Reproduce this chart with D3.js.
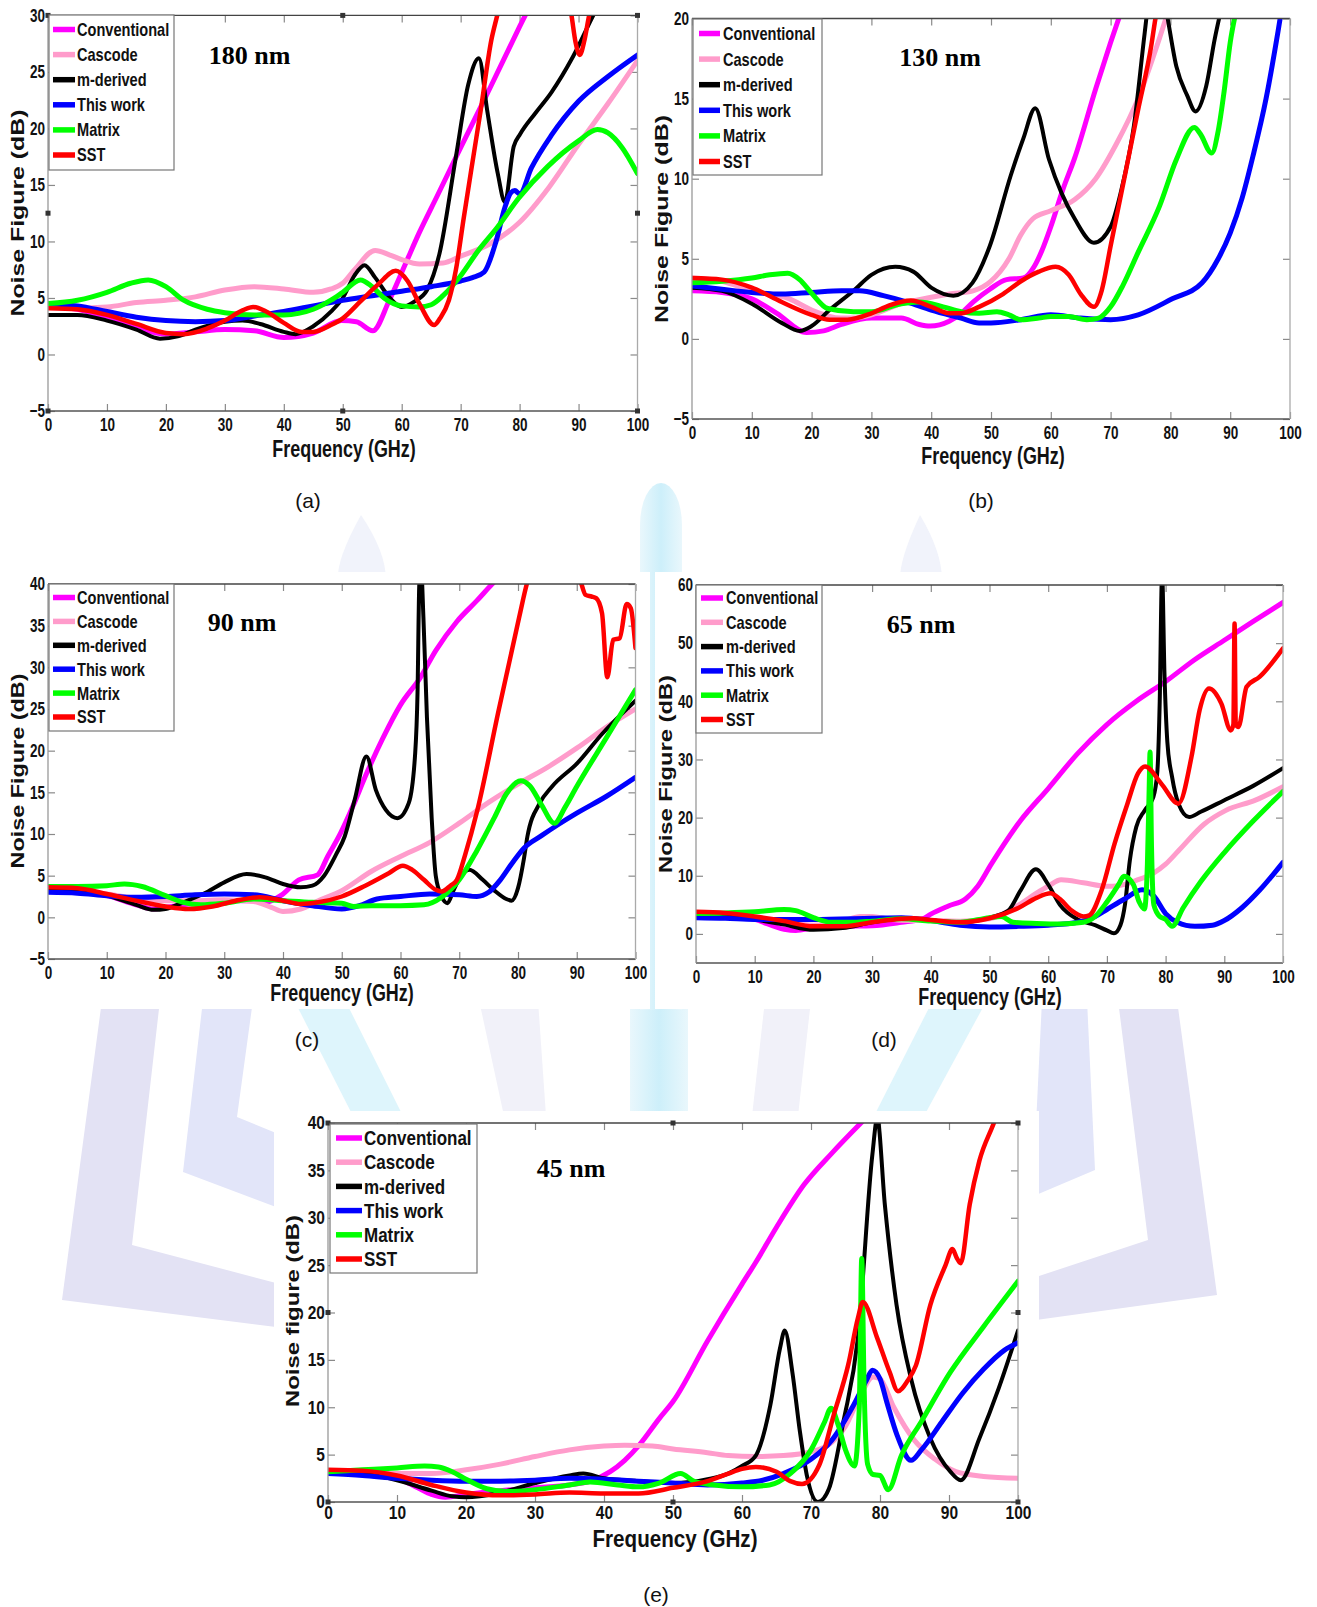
<!DOCTYPE html>
<html>
<head>
<meta charset="utf-8">
<script src="https://cdn.jsdelivr.net/npm/d3@7"></script>
<style>
  html, body { margin: 0; padding: 0; background: #ffffff; }
  svg { display: block; }
</style>
</head>
<body>
<svg id="fig" width="1317" height="1607"></svg>
<script>
// ---------------------------------------------------------------
// Noise figure vs. frequency for five process nodes.
// Each series is a list of [frequency (GHz), noise figure (dB)].
// ---------------------------------------------------------------

const seriesNames = ["Conventional", "Cascode", "m-derived", "This work", "Matrix", "SST"];
const xTickValues = [0, 10, 20, 30, 40, 50, 60, 70, 80, 90, 100];
const yTicks180 = [-5, 0, 5, 10, 15, 20, 25, 30];
const yTicks130 = [-5, 0, 5, 10, 15, 20];
const yTicks90 = [-5, 0, 5, 10, 15, 20, 25, 30, 35, 40];
const yTicks65 = [0, 10, 20, 30, 40, 50, 60];
const yTicks45 = [0, 5, 10, 15, 20, 25, 30, 35, 40];

// ---- 180 nm ----
const a_conv = [[0,4.3],[5,4.0],[10,3.3],[15,2.4],[20,1.8],[25,2.0],[30,2.2],[35,2.1],[40,1.5],[45,1.9],[49.8,3.0],[52.3,2.9],[55.1,2.1],[57.9,4.8],[60.7,8.1],[63,10.8],[66,14],[70,18.3],[75,23.6],[80,29],[82,31.1]];
const a_casc = [[0,4.2],[5,4.1],[10,4.2],[15,4.6],[20,4.8],[25,5.1],[30,5.7],[35,6.0],[40,5.8],[45,5.5],[48,5.8],[50,6.3],[52,7.5],[55.5,9.2],[58,8.8],[60,8.4],[63,8.0],[67,8.1],[70,8.7],[75,9.8],[80,11.7],[85,14.8],[90,18.6],[95,22.2],[100,26]];
const a_mder = [[0,3.5],[5,3.5],[10,3.0],[15,2.2],[19,1.4],[22,1.6],[25,2.2],[30,2.9],[33,3.0],[36,2.7],[40,2.0],[42,1.8],[45,2.5],[48,3.8],[50,5.0],[52,7.0],[53.7,7.9],[55.5,6.8],[58,5.0],[60,4.2],[62.2,4.7],[64.3,5.7],[66.4,8.9],[69.2,17.5],[71.3,23.9],[73.1,26.2],[74.5,21.6],[76.3,16],[77.5,13.5],[79,18.4],[80.1,19.5],[82.6,21.3],[85.4,23.2],[89,26.3],[92.5,30],[94,31.5]];
const a_this = [[0,4.5],[5,4.3],[10,3.8],[15,3.3],[20,3.0],[25,2.9],[30,3.0],[35,3.4],[40,3.8],[45,4.3],[50,4.8],[55,5.2],[60,5.6],[65,6.0],[70,6.5],[72,6.8],[74,7.3],[76,10],[77.5,13],[78.5,14.3],[79.2,14.5],[80,14.2],[82,16.5],[85.4,19.4],[90,22.4],[95,24.6],[100,26.5]];
const a_matr = [[0,4.5],[5,4.8],[10,5.5],[14,6.3],[17,6.6],[20,6.0],[23,4.8],[27,4.0],[30,3.7],[35,3.5],[40,3.5],[45,4.0],[48,4.8],[50,5.5],[53,6.6],[55,6.0],[57,5.0],[60,4.3],[63,4.2],[65,4.4],[67,5.2],[69.9,6.9],[73,9.2],[76.3,11.3],[79.8,13.8],[84.7,16.6],[90,18.9],[93.2,19.9],[95,19.6],[97.4,18.3],[100,16]];
const a_sst  = [[0,4.1],[5,4.0],[10,3.5],[15,2.7],[20,1.9],[23,1.8],[27,2.3],[30,3.0],[33,3.9],[34.8,4.2],[37,3.8],[40,2.8],[43,2.0],[45,2.0],[48,2.6],[50,3.2],[53,4.7],[56,6.2],[59,7.4],[61,6.5],[63,4.5],[65.5,2.6],[66.5,3.2],[68,4.8],[69.2,7.5],[70.5,12],[72,17],[73.4,21.6],[75.2,27.8],[76.2,30],[77.5,33],[82,38],[86,35],[88.8,30],[89.5,27.6],[90.2,26.5],[91,27.8],[91.8,30],[93,32]];

// ---- 130 nm ----
const b_conv = [[0,3.0],[5,2.9],[10,2.5],[14.2,1.6],[19.2,0.4],[22,0.5],[25,0.9],[30,1.3],[35,1.3],[38,0.9],[39.8,0.8],[43,1.1],[45,1.6],[47,2.3],[49.8,3.1],[52.6,3.7],[55.4,3.8],[57.2,4.5],[58.5,5.5],[60,7],[62,9.3],[64,11.3],[67.5,15.6],[70,18.5],[72,20.7]];
const b_casc = [[0,3.8],[5,3.6],[10,3.0],[16.3,2.5],[20,1.8],[24.9,1.3],[27,1.3],[30,1.5],[35,2.2],[40,2.6],[43,2.8],[47,3.0],[50,3.6],[53,5],[55,6.5],[57,7.5],[60,8.0],[64,8.7],[67.5,10],[71,12.2],[74.6,15],[78.2,18.8],[79.5,20.3]];
const b_mder = [[0,3.2],[5,3.0],[10,2.2],[15,1.0],[18,0.5],[20,0.8],[23,1.8],[27,3.0],[30,4.0],[34,4.5],[37,4.2],[40,3.2],[43.7,2.7],[46.9,3.5],[49.8,5.8],[53.3,10.2],[55.4,12.5],[57.4,14.4],[59.7,11.2],[61.8,9.1],[64,7.5],[67.2,6.0],[70,7],[71.8,9.3],[73.9,13.3],[75.7,19.1],[76.5,21.5],[78,23],[79.4,20.3],[81,17],[82.8,15.2],[84.2,14.2],[86,15.8],[87.4,18.7],[88.5,20.6]];
const b_this = [[0,3.3],[5,3.1],[10,2.9],[15,2.8],[20,2.9],[25,3.0],[28,3.0],[32,2.7],[36,2.3],[40,1.8],[45,1.3],[48,1.0],[50,1.0],[55,1.2],[60,1.5],[65,1.3],[70,1.2],[74.6,1.5],[80.3,2.5],[85.3,3.5],[88,5.0],[90,6.6],[92,8.8],[93.8,11.4],[96,15],[98,19.2],[99,21.5]];
const b_matr = [[0,3.5],[5,3.6],[10,3.8],[13,4.0],[16,4.1],[18,3.7],[19.9,2.9],[22.7,1.9],[27,1.7],[30,1.7],[35,2.2],[38,2.3],[42,2.0],[45,1.7],[48,1.6],[51,1.7],[53,1.5],[55,1.2],[58,1.3],[60,1.4],[63,1.4],[66,1.2],[68,1.3],[70,2.0],[72,3.3],[74.6,5.4],[78.2,8.3],[81,11.2],[84,13.2],[85,12.8],[86.9,11.6],[88,13],[89,15.5],[90,18.5],[91,20.5]];
const b_sst  = [[0,3.8],[5,3.7],[10,3.2],[15,2.3],[20,1.5],[23,1.2],[26,1.2],[30,1.6],[33,2.1],[36.6,2.4],[40,2.0],[43,1.6],[45,1.6],[48,2.0],[52,2.8],[55,3.6],[58,4.2],[60.8,4.5],[63,4.0],[65,2.8],[67.2,2.0],[68.5,3.0],[70,5.8],[72.5,10.4],[74.6,14.3],[76.8,18.3],[77.5,20],[78,21]];

// ---- 90 nm ----
const c_conv = [[0,3.2],[5,3.0],[10,2.6],[15,1.5],[18,1.0],[20,1.2],[25,1.7],[30,2.0],[35,2.0],[37,1.8],[39.8,2.7],[42.7,4.5],[45.9,5.1],[47.6,7.3],[49.8,10.1],[52,13.5],[54,16.9],[57,21.5],[60,25.5],[63.4,28.8],[66,32],[69.6,35.5],[73,38],[75.6,40],[77,41]];
const c_casc = [[0,3.5],[5,3.3],[10,2.8],[15,2.3],[20,2.0],[25,2.0],[30,2.1],[35,1.9],[38,1.2],[40,0.7],[43,1.0],[46,2.0],[50,3.2],[55,5.5],[60,7.3],[65,9.0],[70,11.3],[75,13.8],[80,16],[85,18],[90,20.3],[95,22.8],[100,25]];
const c_mder = [[0,3.5],[5,3.3],[10,2.6],[15,1.5],[18,0.9],[20,1.0],[23,1.8],[27,3.0],[30,4.2],[33.8,5.2],[37,4.8],[40,4.0],[43,3.6],[45,3.8],[47,5],[49,7.5],[50.5,9.7],[52.2,14.1],[54.2,19.3],[55.8,15.3],[57.5,12.9],[59.5,11.9],[61.4,13.7],[62.5,19.7],[62.9,27],[63.2,40],[63.5,42],[63.9,36],[64.5,24],[65.3,12],[66,5],[67,2.5],[68,1.7],[69,3.2],[70,4.6],[71.7,5.7],[74,4.5],[76,3.2],[78,2.2],[78.9,2.0],[80,3.5],[81,7],[81.6,9.7],[83.7,13.7],[85.8,15.7],[90.1,18.5],[94.3,22],[100,26]];
const c_this = [[0,3.0],[5,2.9],[10,2.6],[15,2.4],[20,2.5],[25,2.7],[30,2.8],[35,2.7],[40,2.0],[45,1.4],[50,1.0],[53,1.4],[56,2.2],[60,2.5],[65,2.8],[70,2.7],[73,2.5],[75,3.0],[77,4.5],[79,6.5],[81,8.3],[84,9.8],[87,11.2],[90,12.5],[95,14.5],[100,16.8]];
const c_matr = [[0,3.7],[5,3.7],[10,3.8],[13,4.0],[16,3.7],[20,2.6],[23,1.8],[26,1.5],[30,1.7],[35,2.2],[40,2.0],[45,1.8],[50,1.7],[52,1.3],[55,1.4],[60,1.4],[64,1.5],[67,2.4],[70,4.5],[73,8],[76,12],[78,14.8],[80.5,16.4],[82,15.8],[84,13.5],[86.2,11.3],[88,13.2],[90,15.7],[95,21.5],[100,27.3]];
const c_sst  = [[0,3.6],[5,3.5],[10,2.8],[15,2.0],[20,1.3],[24,1.0],[28,1.3],[32,2.0],[36,2.4],[40,2.0],[43,1.6],[46,1.8],[50,2.5],[54,3.8],[58,5.3],[60.4,6.2],[62,5.7],[64,4.5],[66,3.3],[67,3.1],[68.5,3.8],[69.6,4.5],[71,7.5],[73.1,12.9],[76.6,24.5],[80.2,36],[81.5,40],[83,43],[87,45],[90,42],[90.8,40],[91.5,38.7],[92.5,38.5],[93.3,38.3],[94.3,36.5],[95.2,28.8],[96.2,33.3],[97.3,33.5],[98.5,37.6],[99.2,37.1],[100,32.3]];

// ---- 65 nm ----
const d_conv = [[0,3.5],[5,3.3],[10,2.5],[15,0.8],[17,0.6],[20,1.0],[25,1.3],[30,1.4],[35,2.0],[38.6,2.6],[40,3.4],[43,4.8],[45.9,6.0],[48,8.2],[50.3,12],[55.3,19.5],[60,25],[65,31],[70,36],[75,40],[80,43.4],[85,47.2],[90,50.5],[95,53.8],[100,57]];
const d_casc = [[0,3.3],[10,2.8],[15,2.0],[20,1.5],[25,2.2],[28,3.0],[30,3.0],[33,2.5],[36,2.3],[40,2.3],[45,2.2],[50,2.6],[55,5],[58,7],[60,8.2],[62.2,9.3],[66,8.8],[70,8.2],[72,8.3],[75,9.2],[78,10.5],[80,12],[82.2,14.3],[86.6,18.9],[90.2,21.2],[95.3,23],[100,25.3]];
const d_mder = [[0,3.6],[5,3.4],[10,2.5],[15,1.6],[20,0.7],[25,1.0],[30,2.0],[35,2.6],[40,2.3],[45,2.0],[50,2.8],[53.2,4],[55.3,7.5],[57.9,11.1],[60,8.5],[62,5],[65,2.5],[68,1.5],[70,0.6],[71.2,0.1],[72.3,1.5],[73.1,5.2],[73.9,12.6],[75,18.4],[76.4,21.2],[77.9,23.5],[78.6,28],[79.0,40],[79.4,62],[79.8,45],[80.3,33],[81.1,27],[82.2,22.4],[84,20.1],[86,21],[90,23],[95,25.5],[100,28.5]];
const d_this = [[0,2.8],[5,2.7],[10,2.5],[20,2.5],[30,2.7],[35,2.8],[40,2.3],[45,1.5],[50,1.2],[55,1.3],[60,1.5],[65,2.0],[68,3.0],[70,4.2],[73,6.0],[76,7.6],[78,6.5],[80,3.5],[82,2.0],[85,1.3],[88,1.5],[90,2.3],[93,4.5],[96,7.5],[100,12.3]];
const d_matr = [[0,3.5],[5,3.6],[10,3.8],[15,4.2],[17,4.0],[20,2.8],[23,2.0],[27,2.0],[30,2.2],[35,2.6],[40,2.2],[45,2.0],[50,2.8],[52,3.0],[54,2.0],[58,1.8],[62,1.7],[66,2.0],[68,3.0],[70,5.5],[72,8.5],[72.9,9.9],[74.5,8.5],[75.5,5.5],[76.4,4.3],[76.9,12],[77.2,25],[77.35,31.3],[77.6,15],[78,5],[79,3],[80,2.5],[81.1,1.3],[83,4.5],[86,9],[90,14],[95,19.5],[100,24.5]];
const d_sst  = [[0,3.8],[5,3.6],[10,3.0],[15,2.2],[20,1.3],[25,1.3],[30,2.0],[35,2.6],[37,2.7],[40,2.4],[45,2.0],[50,2.7],[55,4.5],[58,6.2],[60.4,7.0],[62,6.0],[64,4.0],[66,3.0],[67,3.2],[69.1,7.5],[71.3,15.5],[73.5,22.4],[75.3,27.6],[76.5,28.8],[79.3,25.8],[82.2,22.4],[84.4,30.4],[85.8,38.5],[87.4,42.2],[89.5,39.6],[91.1,35],[91.55,36],[91.75,53.4],[91.95,36],[92.4,35.6],[93.8,42.5],[96,44.2],[100,49.1]];

// ---- 45 nm ----
const e_conv = [[0,3.2],[5,3.0],[10,2.5],[13,1.5],[15,0.8],[17,0.5],[20,0.8],[25,1.2],[30,1.5],[35,1.8],[38,2.2],[40.9,3.2],[43,4.4],[45.1,6.0],[48,8.8],[50,10.6],[55,17],[60,23],[62,25.3],[65,29],[69,33.5],[73,36.8],[77.5,40.2]];
const e_casc = [[0,3.3],[5,3.2],[10,3.0],[15,3.0],[20,3.4],[25,4.0],[30,4.8],[35,5.5],[40,5.9],[43,6.0],[47,5.9],[50,5.6],[55,5.2],[58,4.9],[62,4.8],[66,4.9],[70,5.3],[73,6.3],[75,8],[77,11],[79,13.2],[80,13],[82,10],[85,6.5],[88,4.5],[91,3.2],[95,2.7],[100,2.5]];
const e_mder = [[0,3.2],[5,3.0],[10,2.3],[15,1.2],[18,0.6],[20,0.5],[22,0.6],[25,1.0],[30,2.0],[35,2.8],[37,3.0],[40,2.5],[45,2.2],[50,2.0],[55,2.4],[58,3.0],[60,3.8],[62,4.9],[64.1,10.2],[65.5,16.2],[66.2,18.1],[67.3,13.7],[68.4,7.4],[69.4,2.8],[71,0],[72.6,1.4],[74.7,8.5],[76.8,17.3],[78.9,36.7],[79.6,40.5],[80.7,31.4],[82.4,20.8],[84.5,13],[87.3,6.7],[90.2,3.2],[91.7,2.3],[94.4,6.7],[97.2,12],[100,18.1]];
const e_this = [[0,3.0],[5,2.8],[10,2.5],[15,2.3],[20,2.2],[25,2.2],[30,2.3],[35,2.5],[40,2.4],[45,2.2],[50,2.0],[55,1.8],[60,2.0],[63,2.3],[66,3.0],[70,4.5],[73,6.5],[76,10],[78,12.8],[78.9,13.9],[80,13],[81,10.5],[82.5,7],[84.5,4.4],[86,5.5],[89,8.5],[92,11.5],[95,14],[98,16],[100,16.8]];
const e_matr = [[0,3.2],[5,3.4],[10,3.6],[14,3.8],[16,3.7],[18,3.2],[20,2.4],[23,1.4],[26,1.1],[30,1.3],[35,1.8],[38,2.1],[42,1.8],[45,1.6],[48,2.0],[51.1,3.0],[53,2.2],[56,1.8],[60,1.6],[64,1.8],[67,3.0],[70,5.5],[72,8.5],[72.9,9.9],[74,8],[75,5.5],[76.3,3.8],[77,10],[77.35,25.7],[77.7,12],[78.2,4],[79,2.9],[80,2.8],[81.2,1.3],[83.1,4.9],[86,8.5],[90.2,13.7],[95,18.5],[100,23.3]];
const e_sst  = [[0,3.4],[5,3.3],[10,2.8],[15,1.8],[20,1.0],[25,0.7],[30,0.8],[35,1.0],[40,0.9],[45,0.9],[50,1.5],[55,2.2],[58,3.0],[60,3.5],[62,3.7],[65,3.2],[67,2.2],[68.7,1.9],[71.2,3.9],[73.3,9.2],[75.4,14.5],[76.8,19.4],[77.5,21.1],[79.6,17.3],[81.4,13.7],[82.6,11.7],[84,12.8],[85.2,14.4],[87.3,20.8],[89.5,25],[90.5,26.7],[91.1,25.8],[91.7,25.2],[93,31.4],[94.4,36],[96.5,40],[97.5,42]];

// ---------------------------------------------------------------
// Styling and page layout
// ---------------------------------------------------------------
const seriesColors = ["#ff00ff", "#ff9ccb", "#000000", "#0000ff", "#00ff00", "#ff0000"];
const seriesWidths = [5, 5, 4, 5, 5, 4.5];
const SANS = "'Liberation Sans', Arial, Helvetica, sans-serif";
const SERIF = "'Liberation Serif', 'Times New Roman', serif";

const panels = [
  { key: "a", title: "180 nm", series: [a_conv, a_casc, a_mder, a_this, a_matr, a_sst],
    yDomain: [-5, 30], yTicks: yTicks180,
    x0: 48, x1: 637.5, yT: 15.4, yB: 411,
    box: [0, 0, 650, 478],
    legend: { x: 49, y: 15, w: 125, h: 155, row0: 29.5, step: 25.1, s0: 53, s1: 75, tx: 77, fs: 18, sx: 0.81 },
    titleXY: [249.5, 64], xlabXY: [344, 457], ylab: { text: "Noise Figure (dB)", x: 17.5, y: 213, len: 207 },
    subXY: [308, 508], sub: "(a)", tick: { fs: 18, sx: 0.75, base: 20 }, xl: { fs: 23, sx: 0.78 }, handles: true },
  { key: "b", title: "130 nm", series: [b_conv, b_casc, b_mder, b_this, b_matr, b_sst],
    yDomain: [-5, 20], yTicks: yTicks130,
    x0: 692, x1: 1290, yT: 18.5, yB: 419,
    box: [650, 0, 667, 478],
    legend: { x: 693, y: 19, w: 129, h: 156, row0: 33.5, step: 25.6, s0: 699, s1: 720, tx: 723, fs: 18, sx: 0.81 },
    titleXY: [940, 66], xlabXY: [993, 464], ylab: { text: "Noise Figure (dB)", x: 662, y: 219, len: 208 },
    subXY: [981, 508], sub: "(b)", tick: { fs: 18, sx: 0.75, base: 20 }, xl: { fs: 23, sx: 0.78 }, handles: false },
  { key: "c", title: "90 nm", series: [c_conv, c_casc, c_mder, c_this, c_matr, c_sst],
    yDomain: [-5, 40], yTicks: yTicks90,
    x0: 48, x1: 635.5, yT: 584, yB: 959,
    box: [0, 572, 650, 437],
    legend: { x: 49, y: 584, w: 125, h: 147, row0: 597.5, step: 23.9, s0: 53, s1: 75, tx: 77, fs: 18, sx: 0.81 },
    titleXY: [242, 631], xlabXY: [342, 1001], ylab: { text: "Noise Figure (dB)", x: 17.5, y: 771, len: 195 },
    subXY: [307, 1047], sub: "(c)", tick: { fs: 18, sx: 0.75, base: 20 }, xl: { fs: 23, sx: 0.78 }, handles: false },
  { key: "d", title: "65 nm", series: [d_conv, d_casc, d_mder, d_this, d_matr, d_sst],
    yDomain: [-5, 60], yTicks: yTicks65,
    x0: 696, x1: 1283, yT: 585, yB: 963,
    box: [655, 572, 662, 437],
    legend: { x: 696, y: 585, w: 126, h: 148, row0: 598, step: 24.3, s0: 701, s1: 723, tx: 726, fs: 18, sx: 0.81 },
    titleXY: [921, 633], xlabXY: [990, 1005], ylab: { text: "Noise Figure (dB)", x: 666, y: 774, len: 198 },
    subXY: [884, 1047], sub: "(d)", tick: { fs: 18, sx: 0.75, base: 20 }, xl: { fs: 23, sx: 0.78 }, handles: false },
  { key: "e", title: "45 nm", series: [e_conv, e_casc, e_mder, e_this, e_matr, e_sst],
    yDomain: [0, 40], yTicks: yTicks45,
    x0: 328, x1: 1018, yT: 1123, yB: 1502,
    box: [274, 1111, 765, 496],
    legend: { x: 330, y: 1124, w: 147, h: 149, row0: 1138, step: 24.2, s0: 336, s1: 362, tx: 364, fs: 20, sx: 0.85 },
    titleXY: [571, 1177], xlabXY: [675, 1547], ylab: { text: "Noise figure (dB)", x: 293, y: 1311, len: 192 },
    subXY: [656, 1602], sub: "(e)", tick: { fs: 18.5, sx: 0.84, base: 17 }, xl: { fs: 24, sx: 0.86 }, handles: true }
];

const svg = d3.select("#fig");
const defs = svg.append("defs");

// ---------------------------------------------------------------
// Faint background emblem behind the figure panels
// ---------------------------------------------------------------
const lav = "#e3e2f4", lavBlue = "#e2e5f9", lavFaint = "#f1f1f9", cyan = "#def5fc";
const grad = defs.append("linearGradient").attr("id", "colGrad").attr("x1", 0).attr("x2", 1);
grad.append("stop").attr("offset", "0").attr("stop-color", "#e9f7fc");
grad.append("stop").attr("offset", "0.5").attr("stop-color", "#cdeffa");
grad.append("stop").attr("offset", "1").attr("stop-color", "#e9f7fc");

const emblem = svg.append("g").attr("class", "emblem");
const poly = d3.line().curve(d3.curveLinearClosed);
const shapes = [
  // outer and inner brackets, left side
  { pts: [[102,1000],[160,1000],[132,1245],[276,1283],[276,1327],[62,1300]], c: lav },
  { pts: [[203,1000],[253,1000],[237,1117],[276,1133],[276,1207],[183,1172]], c: lavBlue },
  // slanted strokes between the rows
  { pts: [[294,1000],[345,1000],[403,1116],[353,1116]], c: cyan },
  { pts: [[479,1000],[538,1000],[546,1116],[504,1116]], c: lavFaint },
  { pts: [[765,1000],[811,1000],[798,1116],[752,1116]], c: lavFaint },
  { pts: [[933,1000],[987,1000],[924,1116],[874,1116]], c: cyan },
  // outer and inner brackets, right side
  { pts: [[1042,1000],[1087,1000],[1095,1170],[1036,1195],[1036,1125]], c: lavBlue },
  { pts: [[1118,1000],[1177,1000],[1217,1295],[1036,1320],[1036,1277],[1148,1240]], c: lav }
];
shapes.forEach(s => emblem.append("path").attr("d", poly(s.pts)).attr("fill", s.c));
emblem.append("rect").attr("x", 630).attr("y", 1000).attr("width", 58).attr("height", 116).attr("fill", "url(#colGrad)");
emblem.append("path")
  .attr("d", "M640,1010 L640,525 A21,42 0 0 1 682,525 L682,1010 Z")
  .attr("fill", "url(#colGrad)");
emblem.append("path").attr("d", "M361,515 Q336,560 338,580 L386,580 Q386,552 361,515 Z").attr("fill", "#f1f3fb");
emblem.append("path").attr("d", "M920,515 Q899,560 900,580 L942,580 Q942,552 920,515 Z").attr("fill", "#f1f3fb");

// ---------------------------------------------------------------
// Panels
// ---------------------------------------------------------------
function narrowText(parent, x, y, str, fs, sx, anchor) {
  return parent.append("text")
    .attr("transform", `translate(${x},${y}) scale(${sx},1)`)
    .attr("text-anchor", anchor || "start")
    .attr("font-family", SANS).attr("font-weight", "bold")
    .attr("font-size", fs).attr("fill", "#111")
    .text(str);
}

function styleAxis(sel, font) {
  sel.select(".domain").remove();
  sel.selectAll(".tick line").attr("stroke", "#8a8a8a").attr("stroke-width", 1.2);
  sel.attr("font-family", SANS).attr("font-size", font ? font.fs : 10);
  if (font) {
    sel.selectAll(".tick text")
      .attr("font-weight", "bold").attr("fill", "#111")
      .attr("transform", `scale(${font.sx},1)`);
  }
}

panels.forEach(p => {
  // white sheet under each panel
  svg.append("rect").attr("x", p.box[0]).attr("y", p.box[1])
    .attr("width", p.box[2]).attr("height", p.box[3]).attr("fill", "#ffffff");

  const g = svg.append("g").attr("class", "panel-" + p.key);
  const x = d3.scaleLinear().domain([0, 100]).range([p.x0, p.x1]);
  const y = d3.scaleLinear().domain(p.yDomain).range([p.yB, p.yT]);

  // tick marks (inward on all four sides) and tick labels
  const bottomPad = p.tick.base - 0.71 * p.tick.fs;
  g.append("g").attr("transform", `translate(0,${p.yB})`)
    .call(d3.axisBottom(x).tickValues(xTickValues).tickSize(-7).tickPadding(bottomPad).tickFormat(d3.format("d")))
    .call(styleAxis, p.tick);
  g.append("g").attr("transform", `translate(${p.x0},0)`)
    .call(d3.axisLeft(y).tickValues(p.yTicks).tickSize(-7).tickPadding(3 / p.tick.sx).tickFormat(d3.format("d")))
    .call(styleAxis, p.tick);
  g.append("g").attr("transform", `translate(0,${p.yT})`)
    .call(d3.axisTop(x).tickValues(xTickValues).tickSize(-7).tickFormat(""))
    .call(styleAxis, null);
  g.append("g").attr("transform", `translate(${p.x1},0)`)
    .call(d3.axisRight(y).tickValues(p.yTicks).tickSize(-7).tickFormat(""))
    .call(styleAxis, null);

  // curves, clipped to the plotting area
  const clipId = "clip-" + p.key;
  defs.append("clipPath").attr("id", clipId).append("rect")
    .attr("x", p.x0).attr("y", p.yT).attr("width", p.x1 - p.x0).attr("height", p.yB - p.yT);
  const line = d3.line().x(d => x(d[0])).y(d => y(d[1])).curve(d3.curveMonotoneX);
  const curves = g.append("g").attr("clip-path", `url(#${clipId})`);
  p.series.forEach((s, i) => {
    curves.append("path").datum(s).attr("d", line)
      .attr("fill", "none").attr("stroke", seriesColors[i])
      .attr("stroke-width", seriesWidths[i])
      .attr("stroke-linejoin", "round").attr("stroke-linecap", "round");
  });

  // axes frame
  g.append("line").attr("x1", p.x0).attr("x2", p.x1).attr("y1", p.yT).attr("y2", p.yT).attr("stroke", "#444").attr("stroke-width", 1.3);
  g.append("line").attr("x1", p.x0).attr("x2", p.x1).attr("y1", p.yB).attr("y2", p.yB).attr("stroke", "#555").attr("stroke-width", 1.3);
  g.append("line").attr("x1", p.x0).attr("x2", p.x0).attr("y1", p.yT).attr("y2", p.yB).attr("stroke", "#999").attr("stroke-width", 1.3);
  g.append("line").attr("x1", p.x1).attr("x2", p.x1).attr("y1", p.yT).attr("y2", p.yB).attr("stroke", "#aaa").attr("stroke-width", 1.3);

  // selection handles on the axes box
  if (p.handles) {
    const xm = (p.x0 + p.x1) / 2, ym = (p.yT + p.yB) / 2;
    [[p.x0, p.yT], [xm, p.yT], [p.x1, p.yT], [p.x0, ym], [p.x1, ym], [p.x0, p.yB], [xm, p.yB], [p.x1, p.yB]]
      .forEach(([hx, hy]) => {
        g.append("rect").attr("x", hx - 2.5).attr("y", hy - 2.5).attr("width", 5).attr("height", 5)
          .attr("fill", "#333");
      });
  }

  // legend
  const L = p.legend;
  const lg = g.append("g").attr("class", "legend");
  lg.append("rect").attr("x", L.x).attr("y", L.y).attr("width", L.w).attr("height", L.h)
    .attr("fill", "#ffffff").attr("stroke", "#777").attr("stroke-width", 1.2);
  seriesNames.forEach((name, i) => {
    const ry = L.row0 + i * L.step;
    lg.append("line").attr("x1", L.s0).attr("x2", L.s1).attr("y1", ry).attr("y2", ry)
      .attr("stroke", seriesColors[i]).attr("stroke-width", 5.5);
    narrowText(lg, L.tx, ry + L.fs * 0.36, name, L.fs, L.sx, "start");
  });

  // node label
  g.append("text").attr("x", p.titleXY[0]).attr("y", p.titleXY[1])
    .attr("text-anchor", "middle").attr("font-family", SERIF).attr("font-weight", "bold")
    .attr("font-size", 26).attr("fill", "#000").text(p.title);

  // axis titles
  narrowText(g, p.xlabXY[0], p.xlabXY[1], "Frequency (GHz)", p.xl.fs, p.xl.sx, "middle");
  g.append("text")
    .attr("transform", `translate(${p.ylab.x},${p.ylab.y}) rotate(-90)`)
    .attr("text-anchor", "middle").attr("dy", "0.36em")
    .attr("font-family", SANS).attr("font-weight", "bold").attr("font-size", 18)
    .attr("textLength", p.ylab.len).attr("lengthAdjust", "spacingAndGlyphs")
    .attr("fill", "#111").text(p.ylab.text);
});

// sub-figure captions (drawn last, over the background emblem)
panels.forEach(p => {
  svg.append("text").attr("x", p.subXY[0]).attr("y", p.subXY[1])
    .attr("text-anchor", "middle").attr("font-family", SANS).attr("font-size", 21)
    .attr("fill", "#111").text(p.sub);
});
</script>
</body>
</html>
